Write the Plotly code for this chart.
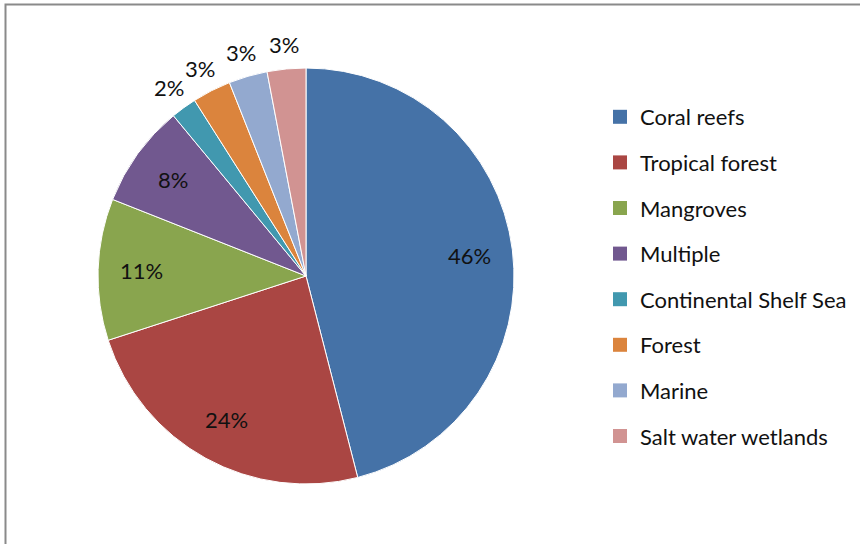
import math
import plotly.graph_objects as go

# Share of records by ecosystem type
categories = ["Coral reefs", "Tropical forest", "Mangroves", "Multiple",
              "Continental Shelf Sea", "Forest", "Marine", "Salt water wetlands"]
shares = [46, 24, 11, 8, 2, 3, 3, 3]
colors = ["#4572A7", "#AA4643", "#89A54E", "#71588F",
          "#4198AF", "#DB843D", "#93A9CF", "#D19392"]
label_outside = [False, False, False, False, True, True, True, True]

W, H = 860, 544
FONT = "Lato"
TEXT = "#111111"

# Pie placement in pixels (top-left origin)
CX, CY, R = 306, 276, 208
IN_R, OUT_R = 0.79, 1.12

fig = go.Figure()

fig.add_trace(go.Pie(
    labels=categories,
    values=shares,
    sort=False,
    direction="clockwise",
    rotation=0,
    marker=dict(colors=colors, line=dict(color="white", width=1)),
    textinfo="none",
    showlegend=False,
    hoverinfo="label+percent",
    domain=dict(x=[(CX - R) / W, (CX + R) / W],
                y=[1 - (CY + R) / H, 1 - (CY - R) / H]),
))

# Percentage labels placed along each slice's mid-angle
total = sum(shares)
annotations = []
cum = 0.0
for v, outside in zip(shares, label_outside):
    mid = (cum + v / 2) / total * 2 * math.pi
    cum += v
    rr = R * (OUT_R if outside else IN_R)
    px = CX + rr * math.sin(mid)
    py = CY - rr * math.cos(mid)
    annotations.append(dict(
        x=px / W, y=1 - py / H, xref="paper", yref="paper",
        text=f"{v / total:.0%}", showarrow=False,
        xanchor="center", yanchor="middle",
        font=dict(family=FONT, size=22, color=TEXT),
    ))

# Legend entries, one group per category so the rows can be spaced out
for name, col in zip(categories, colors):
    fig.add_trace(go.Scatter(
        x=[None], y=[None], mode="markers", name=name,
        legendgroup=name,
        marker=dict(symbol="square", size=14, color=col),
        hoverinfo="skip",
    ))

fig.update_layout(
    width=W, height=H,
    margin=dict(l=0, r=0, t=0, b=0),
    paper_bgcolor="white",
    plot_bgcolor="white",
    font=dict(family=FONT, color=TEXT),
    xaxis=dict(visible=False),
    yaxis=dict(visible=False),
    annotations=annotations,
    legend=dict(
        x=600 / W, y=1 - 96 / H, xanchor="left", yanchor="top",
        font=dict(family=FONT, size=22, color=TEXT),
        tracegroupgap=14,
        traceorder="grouped",
        bgcolor="rgba(0,0,0,0)",
    ),
    shapes=[dict(
        type="rect", xref="paper", yref="paper",
        x0=5.5 / W, x1=1.05, y0=-0.05, y1=1 - 4.5 / H,
        line=dict(color="#8a8a8a", width=2),
        fillcolor="rgba(0,0,0,0)",
        layer="above",
    )],
)

fig.write_html("out.html")
